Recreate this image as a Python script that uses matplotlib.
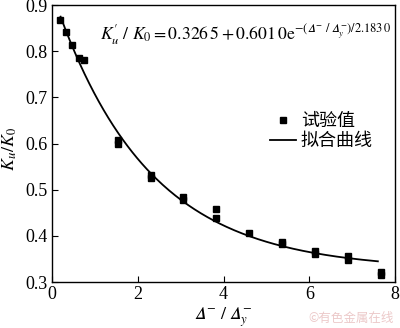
import numpy as np
import matplotlib
matplotlib.use("Agg")
import matplotlib.pyplot as plt

plt.rcParams['font.family'] = ['Liberation Serif', 'Noto Sans CJK SC', 'DejaVu Sans']
plt.rcParams['mathtext.fontset'] = 'stix'

# test data
x_test = [0.19, 0.33, 0.46, 0.63, 0.75, 1.53, 1.53, 2.30, 2.30, 3.05, 3.05,
          3.83, 3.83, 4.60, 5.37, 5.37, 6.14, 6.14, 6.90, 6.90, 7.67, 7.67]
y_test = [0.868, 0.842, 0.814, 0.786, 0.780, 0.608, 0.600, 0.531, 0.525, 0.484, 0.478,
          0.458, 0.438, 0.406, 0.386, 0.382, 0.367, 0.360, 0.356, 0.348, 0.322, 0.315]

# fitted curve parameters (from the equation in the figure)
a0, a1, t0 = 0.3265, 0.6010, 2.1830
x_fit = np.linspace(0.2, 7.6, 200)
y_fit = a0 + a1 * np.exp(-x_fit / t0)

fig = plt.figure(figsize=(4.0, 3.28), dpi=100)
ax = fig.add_axes([0.13, 0.14, 0.8575, 0.8446])

ax.plot(x_test, y_test, 's', color='black', ms=4, label='试验值')
ax.plot(x_fit, y_fit, '-', color='black', lw=1.3, label='拟合曲线')

ax.set_xlim(0, 8)
ax.set_ylim(0.3, 0.9)
ax.set_xticks([0, 2, 4, 6, 8])
ax.set_yticks([0.3, 0.4, 0.5, 0.6, 0.7, 0.8, 0.9])
ax.set_yticklabels(['0.3', '0.4', '0.5', '0.6', '0.7', '0.8', '0.9'])
ax.tick_params(direction='in', length=4, labelsize=13, pad=3)
for s in ax.spines.values():
    s.set_linewidth(1.0)

D = '\U0001D6E5'  # italic capital delta
ax.set_xlabel(r"$%s^{-}\ /\ %s_{y}^{-}$" % (D, D), fontsize=13, labelpad=1)
ax.set_ylabel(r"$K_u/K_0$", fontsize=13, labelpad=0)
ax.yaxis.set_label_coords(-0.095, 0.48)

ax.text(0.14, 0.895,
        r"$K^{\prime}_u\ /\ K_0=0.326\,5+0.601\,0\mathrm{e}^{-(%s^{-}\ /\ %s_{y}^{-})/2.183\,0}$" % (D, D),
        transform=ax.transAxes, fontsize=12.7, va='center', ha='left')

leg = ax.legend(loc='center left', bbox_to_anchor=(0.61, 0.545), frameon=False,
                prop={'family': ['Noto Sans CJK SC'], 'size': 13},
                handlelength=1.4, handletextpad=0.3, labelspacing=0.1, borderpad=0)

fig.text(0.985, 0.01, '©有色金属在线', color='#ecc9c9', fontsize=9,
         family=['Noto Sans CJK SC', 'DejaVu Sans'], ha='right', va='bottom')

fig.savefig('out.png', dpi=100)
